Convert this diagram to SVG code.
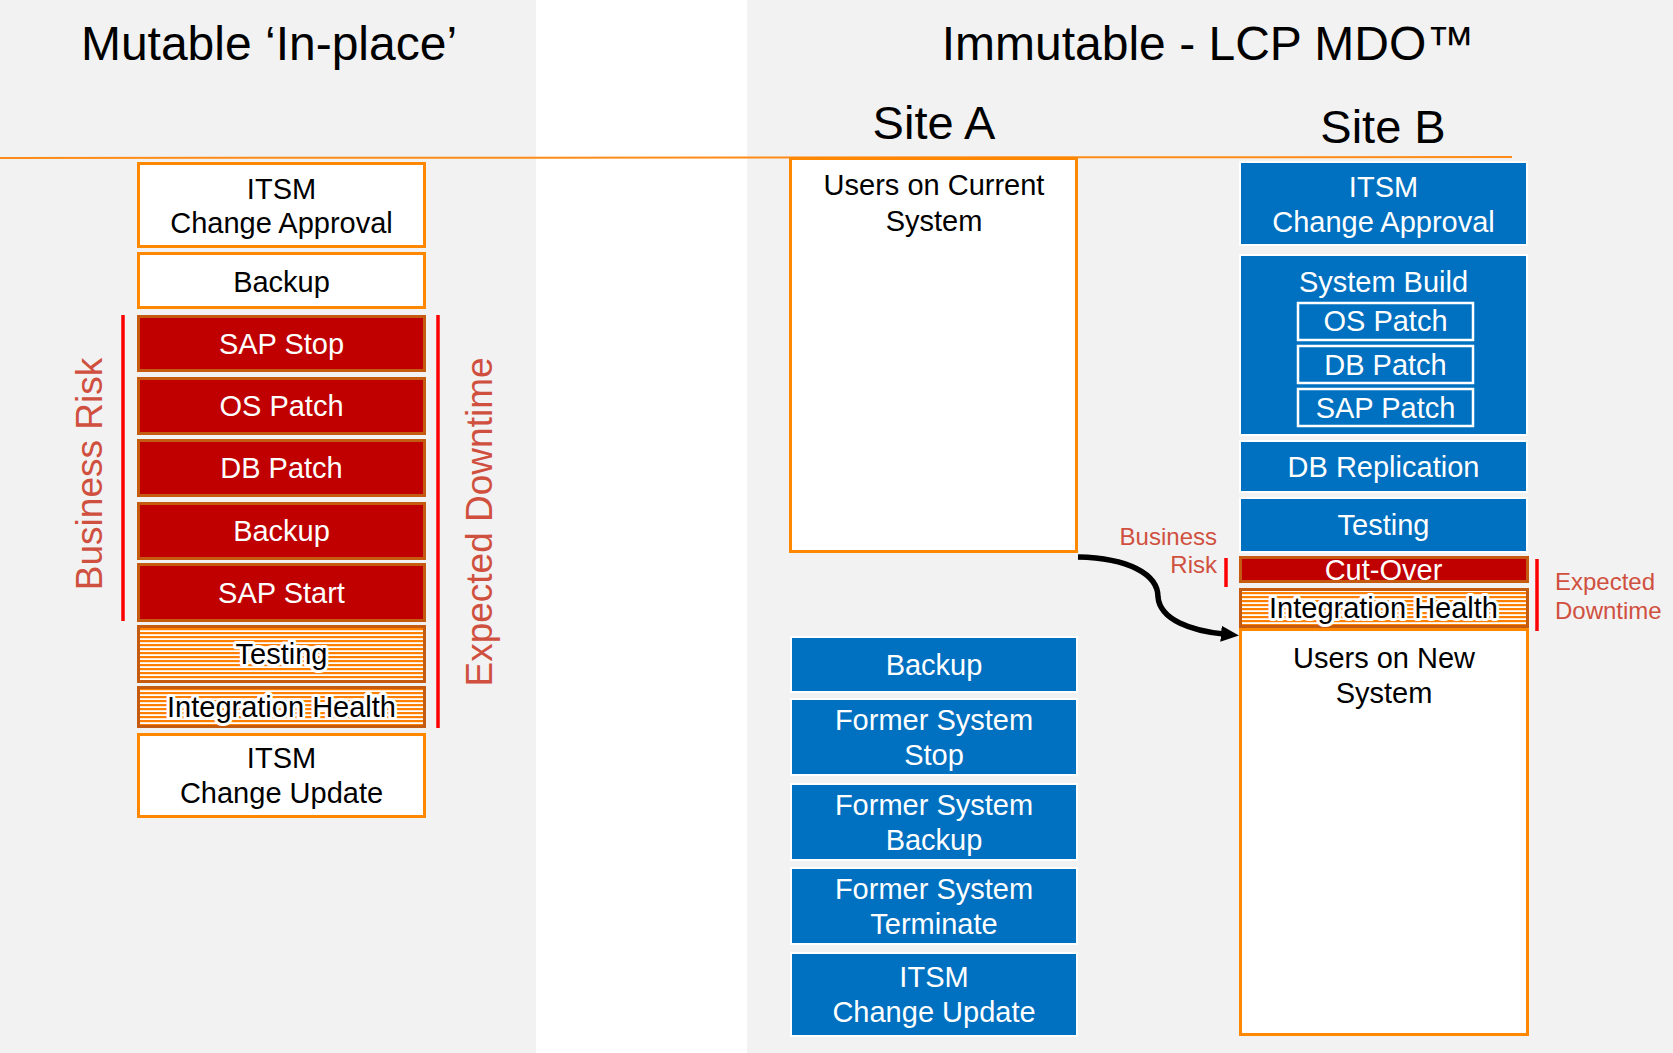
<svg xmlns="http://www.w3.org/2000/svg" width="1673" height="1053" viewBox="0 0 1673 1053">
<defs>
<style>
text{font-family:"Liberation Sans",Arial,sans-serif;text-anchor:middle}
.title{font-size:48px;fill:#000}
.site{font-size:47px;fill:#000}
.t{font-size:29px}
.blk{fill:#000}
.wht{fill:#fff}
.glow{fill:#000;stroke:#fff;stroke-width:6px;stroke-linejoin:round;paint-order:stroke}
.wbox{fill:#fff;stroke:#ff8800;stroke-width:3}
.rbox{fill:#c00000;stroke:#c55a11;stroke-width:3}
.sbox{fill:url(#stripes);stroke:#c55a11;stroke-width:3}
.bbox{fill:#0070c0;stroke:#fff;stroke-width:2}
.ibox{fill:#0070c0;stroke:#fff;stroke-width:2.5}
.rline{stroke:#ff0000;stroke-width:3.5}
.lab{fill:#d0503f}
.side{font-size:37px}
.small{font-size:24px}
</style>
<pattern id="stripes" width="8" height="4" patternUnits="userSpaceOnUse">
<rect width="8" height="4" fill="#ffffff"/>
<rect width="8" height="2.2" fill="#ff8000"/>
</pattern>
<marker id="arrow" markerWidth="18" markerHeight="18" refX="3" refY="8" orient="auto" markerUnits="userSpaceOnUse" viewBox="0 0 18 16">
<path d="M0,0 L18,8 L0,16 z" fill="#000"/>
</marker>
</defs>

<g id="background">
<rect x="0" y="0" width="1673" height="1053" fill="#ffffff"/>
<rect x="0" y="0" width="536" height="1053" fill="#f2f2f2"/>
<rect x="747" y="0" width="926" height="1053" fill="#f2f2f2"/>
<line x1="0" y1="158" x2="1512" y2="157" stroke="#ff8c1a" stroke-width="2"/>
</g>

<g id="titles">
<text class="title" x="269" y="60">Mutable ‘In-place’</text>
<text class="title" x="1208" y="60">Immutable - LCP MDO™</text>
<text class="site" x="934" y="139">Site A</text>
<text class="site" x="1383" y="143">Site B</text>
</g>

<g id="mutable">
<g id="m-itsm-approval"><rect class="wbox" x="138.5" y="163.5" width="286" height="83"/><text class="t blk" x="281.5" y="199">ITSM</text><text class="t blk" x="281.5" y="233">Change Approval</text></g>
<g id="m-backup1"><rect class="wbox" x="138.5" y="253.5" width="286" height="54"/><text class="t blk" x="281.5" y="292">Backup</text></g>
<g id="m-sap-stop"><rect class="rbox" x="138.5" y="316.5" width="286" height="54"/><text class="t wht" x="281.5" y="354">SAP Stop</text></g>
<g id="m-os-patch"><rect class="rbox" x="138.5" y="378.5" width="286" height="55"/><text class="t wht" x="281.5" y="416">OS Patch</text></g>
<g id="m-db-patch"><rect class="rbox" x="138.5" y="440.5" width="286" height="55"/><text class="t wht" x="281.5" y="478">DB Patch</text></g>
<g id="m-backup2"><rect class="rbox" x="138.5" y="503.5" width="286" height="55"/><text class="t wht" x="281.5" y="541">Backup</text></g>
<g id="m-sap-start"><rect class="rbox" x="138.5" y="564.5" width="286" height="56"/><text class="t wht" x="281.5" y="603">SAP Start</text></g>
<g id="m-testing"><rect class="sbox" x="138.5" y="626.5" width="286" height="55"/><text class="t glow" x="281.5" y="664">Testing</text></g>
<g id="m-integration"><rect class="sbox" x="138.5" y="687.5" width="286" height="39"/><text class="t glow" x="281.5" y="717">Integration Health</text></g>
<g id="m-itsm-update"><rect class="wbox" x="138.5" y="734.5" width="286" height="82"/><text class="t blk" x="281.5" y="768">ITSM</text><text class="t blk" x="281.5" y="803">Change Update</text></g>
<g id="m-risk"><line class="rline" x1="123" y1="315" x2="123" y2="621"/><text class="lab side" transform="translate(102,474) rotate(-90)">Business Risk</text></g>
<g id="m-downtime"><line class="rline" x1="438" y1="315" x2="438" y2="728"/><text class="lab side" transform="translate(492,522) rotate(-90)">Expected Downtime</text></g>
</g>

<g id="site-a">
<g id="a-users-current"><rect class="wbox" x="790.5" y="158.5" width="286" height="393"/><text class="t blk" x="934" y="195">Users on Current</text><text class="t blk" x="934" y="231">System</text></g>
<g id="a-backup"><rect class="bbox" x="791" y="637" width="286" height="55"/><text class="t wht" x="934" y="675">Backup</text></g>
<g id="a-former-stop"><rect class="bbox" x="791" y="699" width="286" height="76"/><text class="t wht" x="934" y="730">Former System</text><text class="t wht" x="934" y="765">Stop</text></g>
<g id="a-former-backup"><rect class="bbox" x="791" y="784" width="286" height="76"/><text class="t wht" x="934" y="815">Former System</text><text class="t wht" x="934" y="850">Backup</text></g>
<g id="a-former-terminate"><rect class="bbox" x="791" y="868" width="286" height="76"/><text class="t wht" x="934" y="899">Former System</text><text class="t wht" x="934" y="934">Terminate</text></g>
<g id="a-itsm-update"><rect class="bbox" x="791" y="953" width="286" height="83"/><text class="t wht" x="934" y="987">ITSM</text><text class="t wht" x="934" y="1022">Change Update</text></g>
</g>

<g id="site-b">
<g id="b-itsm-approval"><rect class="bbox" x="1240" y="162" width="287" height="83"/><text class="t wht" x="1383.5" y="197">ITSM</text><text class="t wht" x="1383.5" y="232">Change Approval</text></g>
<g id="b-system-build"><rect class="bbox" x="1240" y="255" width="287" height="180"/><text class="t wht" x="1383.5" y="292">System Build</text>
<rect class="ibox" x="1298" y="303" width="175" height="37"/><text class="t wht" x="1385.5" y="331">OS Patch</text>
<rect class="ibox" x="1298" y="346" width="175" height="37"/><text class="t wht" x="1385.5" y="375">DB Patch</text>
<rect class="ibox" x="1298" y="389" width="175" height="37"/><text class="t wht" x="1385.5" y="418">SAP Patch</text></g>
<g id="b-db-replication"><rect class="bbox" x="1240" y="441" width="287" height="51"/><text class="t wht" x="1383.5" y="477">DB Replication</text></g>
<g id="b-testing"><rect class="bbox" x="1240" y="498" width="287" height="54"/><text class="t wht" x="1383.5" y="535">Testing</text></g>
<g id="b-cutover"><rect class="rbox" x="1240.5" y="557.5" width="287" height="24"/><text class="t wht" x="1383.5" y="580">Cut-Over</text></g>
<g id="b-integration"><rect class="sbox" x="1240.5" y="589.5" width="287" height="37"/><text class="t glow" x="1383.5" y="618">Integration Health</text></g>
<g id="b-users-new"><rect class="wbox" x="1240.5" y="629.5" width="287" height="405"/><text class="t blk" x="1384" y="668">Users on New</text><text class="t blk" x="1384" y="703">System</text></g>
<g id="b-risk"><line class="rline" x1="1226" y1="558" x2="1226" y2="587"/><text class="lab small" style="text-anchor:end" x="1217" y="545">Business</text><text class="lab small" style="text-anchor:end" x="1217" y="573">Risk</text></g>
<g id="b-downtime"><line class="rline" x1="1537" y1="559" x2="1537" y2="631"/><text class="lab small" style="text-anchor:start" x="1555" y="590">Expected</text><text class="lab small" style="text-anchor:start" x="1555" y="619">Downtime</text></g>
</g>

<g id="connectors">
<path d="M1078,557 C1128,558 1158,574 1158,597 C1160,620 1192,631 1224,634" fill="none" stroke="#000" stroke-width="5.5" marker-end="url(#arrow)"/>
</g>
</svg>
